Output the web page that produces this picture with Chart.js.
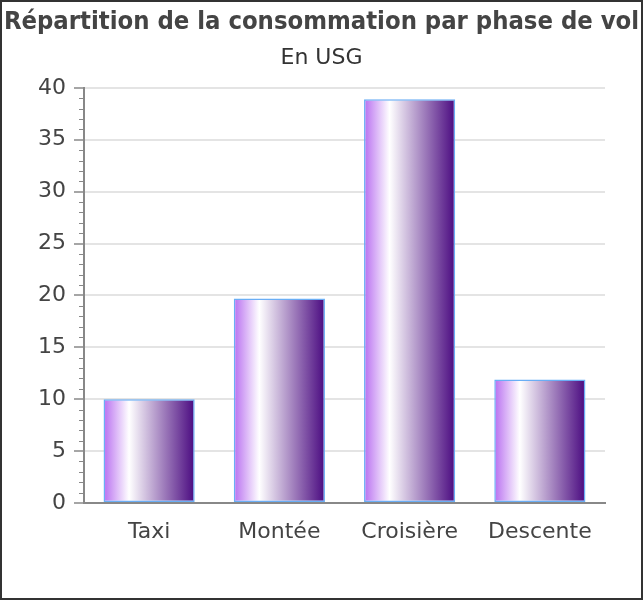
<!DOCTYPE html>
<html>
<head>
<meta charset="utf-8">
<script src="https://cdn.jsdelivr.net/npm/chart.js@4.4.1/dist/chart.umd.min.js"></script>
<style>
  html, body { margin: 0; padding: 0; background: #fff; }
  #wrap { width: 643px; height: 600px; box-sizing: border-box; border: 2px solid #333; position: relative; }
  #c { display: block; }
</style>
</head>
<body>
<div id="wrap"><canvas id="c" width="639" height="596"></canvas></div>
<script>
const categories = ['Taxi', 'Montée', 'Croisière', 'Descente'];
const values = [10, 19.7, 38.9, 11.9];
const yTicks = [0, 5, 10, 15, 20, 25, 30, 35, 40];
const titleText = 'Répartition de la consommation par phase de vol';
const subtitleText = 'En USG';

const minorTicks = {
  id: 'minorTicks',
  afterDraw(chart) {
    const y = chart.scales.y;
    const ctx = chart.ctx;
    const x0 = y.right;
    ctx.save();
    ctx.strokeStyle = '#888';
    ctx.lineWidth = 1;
    for (let v = y.min; v <= y.max; v += 1) {
      if (v % 5 === 0) continue;
      const py = Math.round(y.getPixelForValue(v)) + 0.5;
      ctx.beginPath();
      ctx.moveTo(x0 - 5, py);
      ctx.lineTo(x0, py);
      ctx.stroke();
    }
    ctx.restore();
  }
};

function barGradient(context) {
  const chart = context.chart;
  const xs = chart.scales.x;
  if (!xs || !xs.width) return '#a57fc0';
  const cx = xs.getPixelForValue(context.dataIndex);
  const w = xs.width / categories.length * 0.7;
  const g = chart.ctx.createLinearGradient(cx - w / 2, 0, cx + w / 2, 0);
  g.addColorStop(0, '#b86ef0');
  g.addColorStop(0.28, '#ffffff');
  g.addColorStop(1, '#4a0a80');
  return g;
}

const tickFont = { family: "'DejaVu Sans', sans-serif", size: 22 };

new Chart(document.getElementById('c'), {
  type: 'bar',
  data: {
    labels: categories,
    datasets: [{
      data: values,
      backgroundColor: barGradient,
      borderColor: '#6aaef5',
      borderWidth: 1.5,
      borderSkipped: false,
      categoryPercentage: 1,
      barPercentage: 0.7
    }]
  },
  plugins: [minorTicks],
  options: {
    responsive: false,
    animation: false,
    layout: { padding: 0 },
    plugins: {
      legend: { display: false },
      tooltip: { enabled: false },
      title: {
        display: true,
        text: titleText,
        color: '#444',
        font: { family: "'Liberation Sans Narrow', 'DejaVu Sans Condensed', 'Liberation Sans', sans-serif", size: 25.4, weight: 'bold', lineHeight: 1.2 },
        padding: { top: 5, bottom: 4 }
      },
      subtitle: {
        display: true,
        text: subtitleText,
        color: '#333',
        font: { family: "'DejaVu Sans', sans-serif", size: 22, lineHeight: 1.2 },
        padding: { top: 4, bottom: 16 }
      }
    },
    scales: {
      x: {
        grid: { display: false, drawTicks: false },
        border: { color: '#888', width: 2 },
        ticks: { color: '#444', font: tickFont, padding: 16, maxRotation: 0 },
        afterFit(s) { s.height = 95; }
      },
      y: {
        min: 0, max: 40,
        afterBuildTicks(s) { s.ticks = yTicks.map(v => ({ value: v })); },
        grid: { color: '#e4e4e4', lineWidth: 2, tickLength: 10, tickColor: '#888', tickWidth: 1.5 },
        border: { color: '#888', width: 2 },
        ticks: { color: '#444', font: tickFont, padding: 8 },
        afterFit(s) { s.width = 82; }
      },
      yRight: {
        position: 'right',
        min: 0, max: 40,
        grid: { display: false, drawTicks: false },
        border: { display: false },
        ticks: { display: false },
        afterFit(s) { s.width = 36; }
      }
    }
  }
});
</script>
</body>
</html>
